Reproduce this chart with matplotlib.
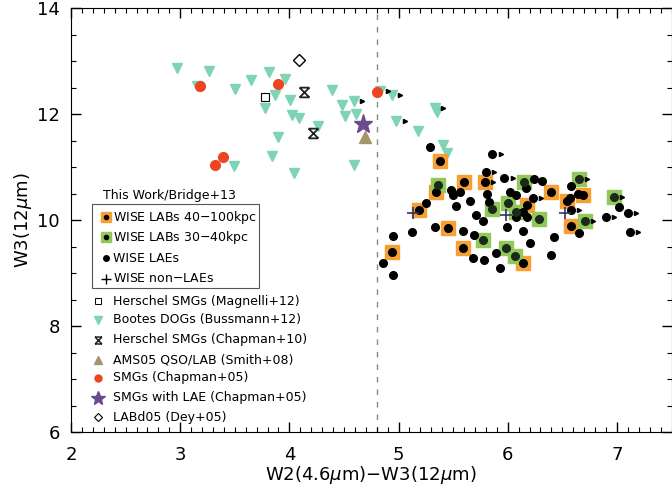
import matplotlib
matplotlib.use("Agg")
import matplotlib.pyplot as plt
from matplotlib.path import Path
from matplotlib.patches import Rectangle
from matplotlib.ticker import MultipleLocator

# WISE LABs 40-100kpc (orange squares); lim = 1 -> lower limit arrow
lab_big_x = [5.38, 5.60, 5.79, 5.34, 6.40, 6.69, 6.54, 6.18, 5.19, 5.45, 6.58, 5.59, 4.94, 6.14]
lab_big_y = [11.12, 10.72, 10.72, 10.53, 10.53, 10.47, 10.35, 10.28, 10.19, 9.84, 9.89, 9.47, 9.39, 9.18]
lab_big_lim = [0, 0, 1, 0, 0, 0, 0, 0, 0, 0, 0, 0, 0, 0]

# WISE LABs 30-40kpc (green squares)
lab_small_x = [5.36, 6.15, 6.65, 6.97, 5.86, 6.00, 6.08, 6.29, 6.71, 5.77, 5.98, 6.07]
lab_small_y = [10.66, 10.71, 10.78, 10.44, 10.20, 10.32, 10.16, 10.02, 9.99, 9.62, 9.48, 9.32]
lab_small_lim = [0, 0, 1, 1, 0, 0, 0, 0, 1, 0, 0, 0]

# WISE LAEs
lae_x = [5.29, 5.86, 5.80, 5.97, 6.24, 6.31, 6.58, 5.48, 5.56, 5.50, 5.81, 6.02,
         6.08, 6.17, 6.64, 6.57, 5.25, 5.65, 5.53, 5.83, 6.23, 6.14, 6.58, 7.02,
         7.10, 5.71, 5.77, 6.08, 6.18, 6.90, 5.33, 6.65, 7.12, 5.12, 4.95, 5.59,
         5.69, 5.99, 6.14, 6.20, 6.42, 5.89, 5.68, 5.78, 5.93, 6.40, 4.86, 4.95]
lae_y = [11.38, 11.25, 10.90, 10.80, 10.77, 10.74, 10.64, 10.57, 10.53, 10.47, 10.49, 10.53,
         10.47, 10.60, 10.49, 10.41, 10.32, 10.36, 10.26, 10.34, 10.41, 10.15, 10.18, 10.25,
         10.13, 10.09, 9.99, 10.05, 10.06, 10.05, 9.87, 9.76, 9.77, 9.78, 9.69, 9.80,
         9.72, 9.86, 9.80, 9.56, 9.67, 9.38, 9.28, 9.25, 9.09, 9.34, 9.18, 8.96]
lae_lim = [0, 1, 1, 1, 0, 0, 0, 0, 0, 0, 0, 0,
           0, 0, 0, 0, 0, 0, 0, 0, 1, 0, 1, 0,
           1, 0, 0, 0, 0, 1, 0, 0, 1, 0, 0, 0,
           0, 0, 0, 0, 0, 0, 0, 0, 0, 0, 0, 0]

# WISE non-LAEs
nonlae_x = [5.13, 6.52, 5.98]
nonlae_y = [10.14, 10.14, 10.09]

# Bootes DOGs (Bussmann+12)
dog_x = [2.97, 3.26, 3.81, 3.65, 3.96, 3.15, 3.50, 3.87, 4.01, 3.78, 4.02, 4.09,
         4.39, 4.48, 4.59, 4.51, 4.61, 3.90, 4.26, 3.84, 3.49, 4.04, 4.59, 4.83,
         4.94, 4.98, 5.18, 5.33, 5.35, 5.41, 5.44]
dog_y = [12.86, 12.82, 12.80, 12.64, 12.66, 12.53, 12.47, 12.36, 12.26, 12.11, 11.98, 11.92,
         12.45, 12.17, 12.25, 11.96, 12.00, 11.56, 11.77, 11.21, 11.01, 10.89, 11.04, 12.43,
         12.36, 11.86, 11.68, 12.11, 12.04, 11.42, 11.26]
dog_lim = [0, 0, 0, 0, 0, 0, 0, 0, 0, 0, 0, 0,
           0, 0, 1, 0, 0, 0, 0, 0, 0, 0, 0, 1,
           1, 1, 0, 1, 0, 0, 0]

# literature samples
magnelli_x, magnelli_y = [3.78], [12.33]
chapman10_x, chapman10_y = [4.13, 4.22], [12.41, 11.65]
ams05_x, ams05_y = [4.69], [11.56]
smg_x = [3.18, 3.90, 3.39, 3.32, 4.80]
smg_y = [12.52, 12.56, 11.18, 11.04, 12.42]
smg_lae_x, smg_lae_y = [4.67], [11.81]
labd05_x, labd05_y = [4.09], [13.01]

ORANGE = "#F6A033"
GREEN = "#92C85A"
TEAL = "#7ED4B4"
RED = "#EE4422"
PURPLE = "#6B4A8E"
OLIVE = "#A8946A"

# X with bars on top and bottom
hourglass = Path([(-1, 1), (1, -1), (-1, -1), (1, 1), (-1, 1), (1, 1), (-1, -1), (1, -1)],
                 [Path.MOVETO, Path.LINETO] * 4)

fig = plt.figure(figsize=(6.72, 4.88), dpi=100)
ax = fig.add_axes([71 / 672, 1 - 432 / 488, 600.5 / 672, 424 / 488])


def arrows(xs, ys, flags):
    px = [x + 0.075 for x, f in zip(xs, flags) if f]
    py = [y for y, f in zip(ys, flags) if f]
    ax.plot(px, py, ">", color="black", markersize=3, zorder=6)


ax.axvline(4.8, color="#888888", lw=1, ls=(0, (4, 5)), zorder=1)

ax.plot(dog_x, dog_y, "v", color=TEAL, markersize=6.5, ls="none", zorder=3)
arrows(dog_x, dog_y, dog_lim)
ax.plot(smg_x, smg_y, "o", color=RED, markersize=7, ls="none", zorder=4)
ax.plot(magnelli_x, magnelli_y, "s", mfc="none", mec="black", mew=0.8, markersize=6, ls="none", zorder=4)
ax.plot(chapman10_x, chapman10_y, marker=hourglass, mfc="none", mec="#222222", mew=1.3,
        markersize=7, ls="none", zorder=4)
ax.plot(ams05_x, ams05_y, "^", color=OLIVE, markersize=8, ls="none", zorder=4)
ax.plot(smg_lae_x, smg_lae_y, "*", color=PURPLE, markersize=14, ls="none", zorder=4)
ax.plot(labd05_x, labd05_y, "D", mfc="none", mec="black", mew=1, markersize=6, ls="none", zorder=4)

ax.plot(lab_big_x, lab_big_y, "s", color=ORANGE, markersize=10, ls="none", zorder=4)
ax.plot(lab_small_x, lab_small_y, "s", color=GREEN, markersize=10, ls="none", zorder=4)
ax.plot(lae_x, lae_y, "o", color="black", markersize=5.5, ls="none", zorder=5)
ax.plot(lab_big_x, lab_big_y, "o", color="black", markersize=5.5, ls="none", zorder=5)
ax.plot(lab_small_x, lab_small_y, "o", color="#1c2a1c", markersize=5.5, ls="none", zorder=5)
ax.plot(nonlae_x, nonlae_y, "+", color="#333366", markersize=9, mew=1.2, ls="none", zorder=5)
arrows(lae_x, lae_y, lae_lim)
arrows(lab_big_x, lab_big_y, lab_big_lim)
arrows(lab_small_x, lab_small_y, lab_small_lim)

ax.set_xlim(2, 7.5)
ax.set_ylim(6, 14)
ax.xaxis.set_major_locator(MultipleLocator(1))
ax.xaxis.set_minor_locator(MultipleLocator(0.1))
ax.yaxis.set_major_locator(MultipleLocator(2))
ax.yaxis.set_minor_locator(MultipleLocator(0.5))
ax.tick_params(which="both", direction="in", top=True, right=True, labelsize=13)
ax.tick_params(which="major", length=7, width=1)
ax.tick_params(which="minor", length=3.5, width=0.8)
ax.tick_params(axis="x", pad=10)
ax.tick_params(axis="y", pad=8)
ax.set_xlabel(r"W2(4.6$\mu$m)$-$W3(12$\mu$m)", fontsize=13)
ax.set_ylabel(r"W3(12$\mu$m)", fontsize=13)
ax.xaxis.set_label_coords(0.5, -0.075)
ax.yaxis.set_label_coords(-0.062, 0.5)


# hand-made legend, positions in axes pixels from the left / top of the figure
def to_ax(px, py):
    return (px - 71) / 601, (432 - py) / 424


def row(py, mx, label, marks):
    x0, y0 = to_ax(mx, py)
    for m in marks:
        ax.plot([x0], [y0], transform=ax.transAxes, clip_on=False, ls="none", **m)
    tx, ty = to_ax(113, py)
    ax.text(tx, ty, label, transform=ax.transAxes, fontsize=9, va="center", ha="left")


tx, ty = to_ax(103, 195)
ax.text(tx, ty, "This Work/Bridge+13", transform=ax.transAxes, fontsize=9, va="center")
bx, by = to_ax(92, 288)
ax.add_patch(Rectangle((bx, by), 167 / 601, 84 / 424, transform=ax.transAxes,
                       fill=False, lw=0.8, ec="#555555"))

row(217, 106, "WISE LABs 40$-$100kpc",
    [dict(marker="s", color=ORANGE, markersize=7), dict(marker="o", color="black", markersize=3)])
row(237, 106, "WISE LABs 30$-$40kpc",
    [dict(marker="s", color=GREEN, markersize=7), dict(marker="o", color="black", markersize=3)])
row(258, 106, "WISE LAEs", [dict(marker="o", color="black", markersize=4)])
row(279, 106, "WISE non$-$LAEs", [dict(marker="+", color="black", markersize=7, mew=1)])

row(301, 98, "Herschel SMGs (Magnelli+12)",
    [dict(marker="s", mfc="none", mec="black", mew=0.7, markersize=5)])
row(320, 98, "Bootes DOGs (Bussmann+12)", [dict(marker="v", color=TEAL, markersize=6)])
row(340, 98, "Herschel SMGs (Chapman+10)",
    [dict(marker=hourglass, mfc="none", mec="#222222", mew=1.1, markersize=5)])
row(360, 98, "AMS05 QSO/LAB (Smith+08)", [dict(marker="^", color=OLIVE, markersize=6)])
row(378, 98, "SMGs (Chapman+05)", [dict(marker="o", color=RED, markersize=5)])
row(398, 98, "SMGs with LAE (Chapman+05)", [dict(marker="*", color=PURPLE, markersize=10)])
row(417, 98, "LABd05 (Dey+05)", [dict(marker="D", mfc="none", mec="black", mew=0.8, markersize=4.5)])

fig.savefig("out.png", dpi=100)
